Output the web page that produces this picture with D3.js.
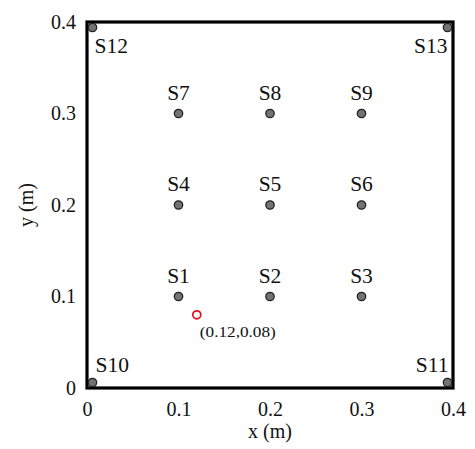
<!DOCTYPE html>
<html>
<head>
<meta charset="utf-8">
<script src="https://cdn.jsdelivr.net/npm/d3@7"></script>
<style>
  html, body { margin: 0; padding: 0; background: #fff; }
  svg text { font-family: "Liberation Serif", "Times New Roman", "DejaVu Serif", serif !important; fill: #111; }
</style>
</head>
<body>
<svg id="chart" width="475" height="449" font-family="Liberation Serif, DejaVu Serif, serif"></svg>
<script>
// Sensor layout on a 0.4 m x 0.4 m plate
const sensorNames = ["S1","S2","S3","S4","S5","S6","S7","S8","S9","S10","S11","S12","S13"];
const sensorX = [0.1, 0.2, 0.3, 0.1, 0.2, 0.3, 0.1, 0.2, 0.3, 0.006, 0.394, 0.006, 0.394];
const sensorY = [0.1, 0.1, 0.1, 0.2, 0.2, 0.2, 0.3, 0.3, 0.3, 0.006, 0.006, 0.394, 0.394];
// Label placement relative to each sensor
const labelPos = ["above","above","above","above","above","above","above","above","above",
                  "aboveRight","aboveLeft","belowRight","belowLeft"];

// Source location
const sourceX = [0.12];
const sourceY = [0.08];
const sourceLabel = ["(0.12,0.08)"];

const xTicks = [0, 0.1, 0.2, 0.3, 0.4];
const yTicks = [0, 0.1, 0.2, 0.3, 0.4];
const tickLabels = ["0", "0.1", "0.2", "0.3", "0.4"];

const FONT = "'Liberation Serif', 'Times New Roman', 'DejaVu Serif', serif";
const svg = d3.select("#chart");
const margin = { left: 87, right: 22, top: 22, bottom: 61 };
const W = 475, H = 449;

const x = d3.scaleLinear().domain([0, 0.4]).range([margin.left, W - margin.right]);
const y = d3.scaleLinear().domain([0, 0.4]).range([H - margin.bottom, margin.top]);

// X axis labels
const xAxis = d3.axisBottom(x).tickValues(xTicks).tickSize(0).tickPadding(14)
  .tickFormat((d, i) => tickLabels[i]);
svg.append("g")
  .attr("transform", `translate(0,${y(0)})`)
  .call(xAxis)
  .attr("font-family", FONT)
  .call(g => g.select(".domain").remove())
  .selectAll("text")
  .style("font-size", "20px")
  .attr("fill", "#111");

// Y axis labels
const yAxis = d3.axisLeft(y).tickValues(yTicks).tickSize(0).tickPadding(11)
  .tickFormat((d, i) => tickLabels[i]);
svg.append("g")
  .attr("transform", `translate(${x(0)},0)`)
  .call(yAxis)
  .attr("font-family", FONT)
  .call(g => g.select(".domain").remove())
  .selectAll("text")
  .style("font-size", "20px")
  .attr("fill", "#111");

// Plate boundary
svg.append("rect")
  .attr("x", x(0)).attr("y", y(0.4))
  .attr("width", x(0.4) - x(0)).attr("height", y(0) - y(0.4))
  .attr("fill", "none").attr("stroke", "#000").attr("stroke-width", 3.2);

// Axis titles
svg.append("text")
  .attr("x", (x(0) + x(0.4)) / 2).attr("y", 438)
  .attr("text-anchor", "middle")
  .style("font-size", "20px")
  .text("x (m)");
svg.append("text")
  .attr("transform", `translate(33,${(y(0) + y(0.4)) / 2}) rotate(-90)`)
  .attr("text-anchor", "middle")
  .style("font-size", "20px")
  .text("y (m)");

// Sensors
const sensors = sensorNames.map((n, i) => ({ name: n, x: sensorX[i], y: sensorY[i], pos: labelPos[i] }));
svg.append("g").selectAll("circle")
  .data(sensors).join("circle")
  .attr("cx", d => x(d.x)).attr("cy", d => y(d.y))
  .attr("r", 4.2)
  .attr("fill", "#737373")
  .attr("stroke", "#222").attr("stroke-width", 1.3);

const offsets = {
  above:      { dx: 0,  dy: -14, anchor: "middle" },
  aboveRight: { dx: 3,  dy: -11, anchor: "start" },
  aboveLeft:  { dx: 1,  dy: -11, anchor: "end" },
  belowRight: { dx: 2,  dy: 26,  anchor: "start" },
  belowLeft:  { dx: 0,  dy: 26,  anchor: "end" }
};
svg.append("g").selectAll("text")
  .data(sensors).join("text")
  .attr("x", d => x(d.x) + offsets[d.pos].dx)
  .attr("y", d => y(d.y) + offsets[d.pos].dy)
  .attr("text-anchor", d => offsets[d.pos].anchor)
  .style("font-size", "21.5px")
  .text(d => d.name);

// Source point
svg.append("g").selectAll("circle")
  .data(sourceX).join("circle")
  .attr("cx", d => x(d)).attr("cy", (d, i) => y(sourceY[i]))
  .attr("r", 4)
  .attr("fill", "none")
  .attr("stroke", "#e0101a").attr("stroke-width", 1.7);
svg.append("g").selectAll("text")
  .data(sourceX).join("text")
  .attr("x", d => x(d) + 3).attr("y", (d, i) => y(sourceY[i]) + 22)
  .style("font-size", "14px")
  .attr("textLength", 76)
  .attr("lengthAdjust", "spacingAndGlyphs")
  .text((d, i) => sourceLabel[i]);
</script>
</body>
</html>
